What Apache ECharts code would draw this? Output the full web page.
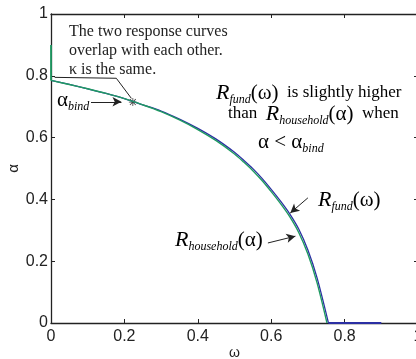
<!DOCTYPE html>
<html>
<head>
<meta charset="utf-8">
<script src="https://cdn.jsdelivr.net/npm/echarts@6/dist/echarts.min.js"></script>
<style>
  html, body { margin: 0; padding: 0; background: #fff; }
  #chart { width: 416px; height: 359px; }
</style>
</head>
<body>
<div id="chart"></div>
<script>
// values
var omegaHousehold = [0, 0.05, 0.1, 0.15, 0.2, 0.25, 0.3, 0.35, 0.4, 0.45, 0.5, 0.525, 0.55, 0.575, 0.6, 0.625, 0.65, 0.675, 0.7, 0.725, 0.752];
var alphaHousehold = [0.785, 0.772, 0.758, 0.743, 0.726, 0.706, 0.684, 0.657, 0.626, 0.590, 0.547, 0.521, 0.493, 0.461, 0.425, 0.387, 0.345, 0.293, 0.223, 0.13, 0];
var omegaFund = [0, 0.05, 0.1, 0.15, 0.2, 0.25, 0.3, 0.35, 0.4, 0.45, 0.5, 0.525, 0.55, 0.575, 0.6, 0.625, 0.65, 0.675, 0.7, 0.725, 0.756];
var alphaFund = [0.785, 0.772, 0.758, 0.743, 0.726, 0.706, 0.686, 0.660, 0.630, 0.595, 0.5525, 0.527, 0.4995, 0.468, 0.4325, 0.395, 0.354, 0.304, 0.236, 0.146, 0];
var householdStartOmega = [0, 0];
var householdStartAlpha = [0.9, 0.785];
var fundTailOmega = [0.756, 0.9];
var fundTailAlpha = [0, 0];
var bindPoint = [0.223, 0.715];

// arrows and leader lines, in data units
var bindArrow = [[0.109, 0.716], [0.192, 0.716]];
var fundArrow = [[0.700, 0.405], [0.652, 0.356]];
var householdArrow = [[0.591, 0.259], [0.666, 0.281]];
var leader = [[0.01, 0.795], [0.178, 0.792], [0.219, 0.727]];

function pairs(xs, ys) {
  return xs.map(function (x, i) { return [x, ys[i]]; });
}

var serif = 'Liberation Serif';
var sans = 'Liberation Sans';
var ink = '#222';
var blue = '#2b2fa3';
var green = '#1f9a62';

var rich = {
  R: { fontFamily: serif, fontStyle: 'italic', fontSize: 22, lineHeight: 26, color: ink },
  s: { fontFamily: serif, fontStyle: 'italic', fontSize: 12, lineHeight: 12, verticalAlign: 'bottom', color: ink },
  g: { fontFamily: serif, fontSize: 21, lineHeight: 26, color: ink },
  t: { fontFamily: serif, fontSize: 17, lineHeight: 26, color: ink }
};

function label(x, y, text) {
  return {
    type: 'text', x: x, y: y, silent: true,
    style: { text: text, rich: rich, textAlign: 'left', textVerticalAlign: 'middle' }
  };
}

function plain(x, y, text) {
  return {
    type: 'text', x: x, y: y, silent: true,
    style: { text: text, font: '16px ' + serif, fill: ink, textAlign: 'left', textVerticalAlign: 'middle' }
  };
}

var chartDom = document.getElementById('chart');
var myChart = echarts.init(chartDom, null, { renderer: 'canvas' });

var axisLine = { show: true, onZero: false, lineStyle: { color: ink, width: 1.3 } };
var axisTick = { show: true, inside: true, length: 4, lineStyle: { color: ink, width: 1 } };
var tickLabel = { color: ink, fontFamily: sans, fontSize: 16 };

function seg(a, b, arrow) {
  return [
    { coord: a, symbol: 'none' },
    { coord: b, symbol: arrow ? 'arrow' : 'none' }
  ];
}

var option = {
  animation: false,
  backgroundColor: '#fff',
  grid: { left: 51, top: 14, width: 367, height: 309, outerBoundsMode: 'none' },
  xAxis: [
    {
      type: 'value', min: 0, max: 1, interval: 0.2,
      name: 'ω', nameLocation: 'middle', nameGap: 23, nameMoveOverlap: false,
      nameTextStyle: { color: ink, fontFamily: sans, fontSize: 14 },
      axisLine: axisLine, axisTick: axisTick,
      axisLabel: Object.assign({ margin: 6 }, tickLabel),
      splitLine: { show: false }
    },
    {
      type: 'value', min: 0, max: 1, interval: 0.2, position: 'top',
      axisLine: axisLine, axisTick: axisTick, axisLabel: { show: false },
      splitLine: { show: false }
    }
  ],
  yAxis: [
    {
      type: 'value', min: 0, max: 1, interval: 0.2,
      name: 'α', nameLocation: 'middle', nameGap: 30, nameMoveOverlap: false,
      nameTextStyle: { color: ink, fontFamily: sans, fontSize: 15 },
      axisLine: axisLine, axisTick: axisTick,
      axisLabel: Object.assign({ margin: 3 }, tickLabel),
      splitLine: { show: false }
    },
    {
      type: 'value', min: 0, max: 1, interval: 0.2, position: 'right',
      axisLine: axisLine, axisTick: axisTick, axisLabel: { show: false },
      splitLine: { show: false }
    }
  ],
  series: [
    {
      name: 'R_fund', type: 'line', data: pairs(omegaFund, alphaFund),
      showSymbol: false, smooth: 0.3,
      lineStyle: { color: blue, width: 1.3 }, silent: true
    },
    {
      name: 'R_fund tail', type: 'line', data: pairs(fundTailOmega, fundTailAlpha),
      showSymbol: false, lineStyle: { color: blue, width: 1.8 }, silent: true
    },
    {
      name: 'R_household', type: 'line', data: pairs(omegaHousehold, alphaHousehold),
      showSymbol: false, smooth: 0.3,
      lineStyle: { color: green, width: 1.4 }, silent: true
    },
    {
      name: 'R_household start', type: 'line', data: pairs(householdStartOmega, householdStartAlpha),
      showSymbol: false, lineStyle: { color: green, width: 1.8 }, silent: true
    },
    {
      name: 'bind', type: 'scatter', data: [bindPoint], silent: true,
      symbol: 'path://M0,4.5H10V5.5H0Z M4.5,0H5.5V10H4.5Z M1,1.7L1.7,1L9,8.3L8.3,9Z M8.3,1L9,1.7L1.7,9L1,8.3Z',
      symbolSize: 8, itemStyle: { color: '#111' },
      markLine: {
        silent: true, symbolSize: [7, 9],
        label: { show: false }, emphasis: { disabled: true },
        lineStyle: { color: ink, width: 1, type: 'solid' },
        data: [
          seg(bindArrow[0], bindArrow[1], true),
          seg(fundArrow[0], fundArrow[1], true),
          seg(householdArrow[0], householdArrow[1], true),
          seg(leader[0], leader[1], false),
          seg(leader[1], leader[2], false)
        ]
      }
    }
  ],
  graphic: [
    plain(69, 32, 'The two response curves'),
    plain(69, 51, 'overlap with each other.'),
    plain(69, 70, 'κ is the same.'),
    label(57, 100, '{g|α}{s|bind}'),
    label(216, 93, '{R|R}{s|fund}{g|(ω)}{t|  is slightly higher}'),
    label(228, 114, '{t|than  }{R|R}{s|household}{g|(α)}{t|  when}'),
    label(258, 142, '{g|α < α}{s|bind}'),
    label(318, 200, '{R|R}{s|fund}{g|(ω)}'),
    label(175, 240, '{R|R}{s|household}{g|(α)}')
  ]
};

myChart.setOption(option);
</script>
</body>
</html>
